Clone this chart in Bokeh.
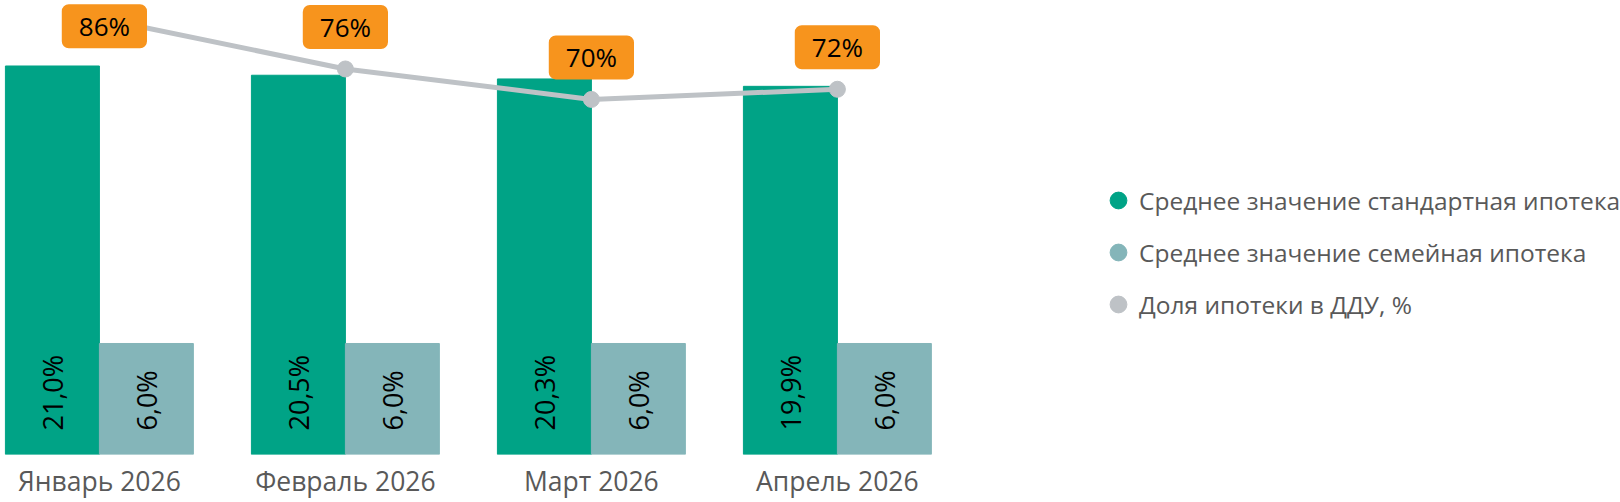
from bokeh.models import (
    ColumnDataSource,
    Range1d,
    FixedTicker,
    Legend,
    LegendItem,
)
from bokeh.plotting import figure
from bokeh.embed import file_html
from bokeh.resources import INLINE

months = ["Январь 2026", "Февраль 2026", "Март 2026", "Апрель 2026"]
rate_standard = [21.0, 20.5, 20.3, 19.9]
rate_family = [6.0, 6.0, 6.0, 6.0]
mortgage_share = [86, 76, 70, 72]

name_standard = "Среднее значение стандартная ипотека"
name_family = "Среднее значение семейная ипотека"
name_share = "Доля ипотеки в ДДУ, %"

c_std = "#00A386"
c_fam = "#84B5B9"
c_line = "#BEC2C6"
c_box = "#F7941D"
font = "Open Sans"

idx = list(range(len(months)))
bw = 0.382
src = ColumnDataSource(data=dict(
    x=idx,
    x_std=[i - bw / 2 for i in idx],
    x_fam=[i + bw / 2 for i in idx],
    std=rate_standard,
    fam=rate_family,
    std_lbl=[("%.1f%%" % v).replace(".", ",") for v in rate_standard],
    fam_lbl=[("%.1f%%" % v).replace(".", ",") for v in rate_family],
    share=mortgage_share,
    share_lbl=["%d%%" % v for v in mortgage_share],
    # first label is pushed under its point, the rest sit above
    dx=[5 if i == 0 else 0 for i in idx],
    dy=[8 if i == 0 else -42 for i in idx],
))

W = 1620
p = figure(frame_width=W, frame_height=454, output_backend="svg",
           toolbar_location=None, tools="", y_axis_location=None,
           x_range=Range1d(-0.402, -0.402 + W / 246),
           y_range=Range1d(0, 24.54),
           min_border_left=0, min_border_right=0, min_border_top=0,
           min_border_bottom=0)
p.extra_y_ranges = {"share": Range1d(start=0, end=89.5)}

p.vbar(x="x_std", top="std", width=bw, source=src, color=c_std)
p.vbar(x="x_fam", top="fam", width=bw, source=src, color=c_fam)

p.text(x="x_std", y=0, text="std_lbl", source=src, angle=1.5708,
       text_align="left", text_baseline="middle", y_offset=-24,
       text_font={"value": font}, text_font_size="27px", text_color="black")
p.text(x="x_fam", y=0, text="fam_lbl", source=src, angle=1.5708,
       text_align="left", text_baseline="middle", y_offset=-24,
       text_font={"value": font}, text_font_size="27px", text_color="black")

p.line(x="x", y="share", source=src, y_range_name="share",
       line_color=c_line, line_width=5)
p.scatter(x="x", y="share", source=src, y_range_name="share",
          size=16, color=c_line)

p.text(x="x", y="share", text="share_lbl", source=src, y_range_name="share",
       x_offset="dx", y_offset="dy", text_align="center",
       text_baseline="middle", text_font={"value": font},
       text_font_size="26px", text_color="black",
       background_fill_color=c_box, border_radius=7,
       padding=dict(left=17, right=17, top=4, bottom=4))

# hidden circles only feed the legend glyphs
r1 = p.scatter(x="x_std", y="std", source=src, color=c_std, visible=False)
r2 = p.scatter(x="x_fam", y="fam", source=src, color=c_fam, visible=False)
r3 = p.scatter(x="x", y="share", source=src, y_range_name="share",
               color=c_line, visible=False)
# legend marker size is 0.4 of the glyph box
legend = Legend(items=[
    LegendItem(label=name_standard, renderers=[r1]),
    LegendItem(label=name_family, renderers=[r2]),
    LegendItem(label=name_share, renderers=[r3]),
], location=(1097, 129), border_line_color=None, background_fill_alpha=0,
    padding=0, margin=0, spacing=10, glyph_width=42, glyph_height=42,
    label_standoff=-6, label_text_font=font, label_text_font_size="24.5px",
    label_text_color="#595959", inactive_fill_alpha=0)
p.add_layout(legend)

p.xaxis.ticker = FixedTicker(ticks=idx)
p.xaxis.major_label_overrides = {i: m for i, m in zip(idx, months)}
p.xaxis.axis_line_color = None
p.xaxis.major_tick_line_color = None
p.xaxis.minor_tick_line_color = None
p.xaxis.major_tick_in = 0
p.xaxis.major_tick_out = 0
p.xaxis.major_label_standoff = 8
p.xaxis.major_label_text_font = font
p.xaxis.major_label_text_font_size = "26.5px"
p.xaxis.major_label_text_color = "#595959"

p.grid.grid_line_color = None
p.outline_line_color = None

open("out.html", "w").write(file_html(p, INLINE))
